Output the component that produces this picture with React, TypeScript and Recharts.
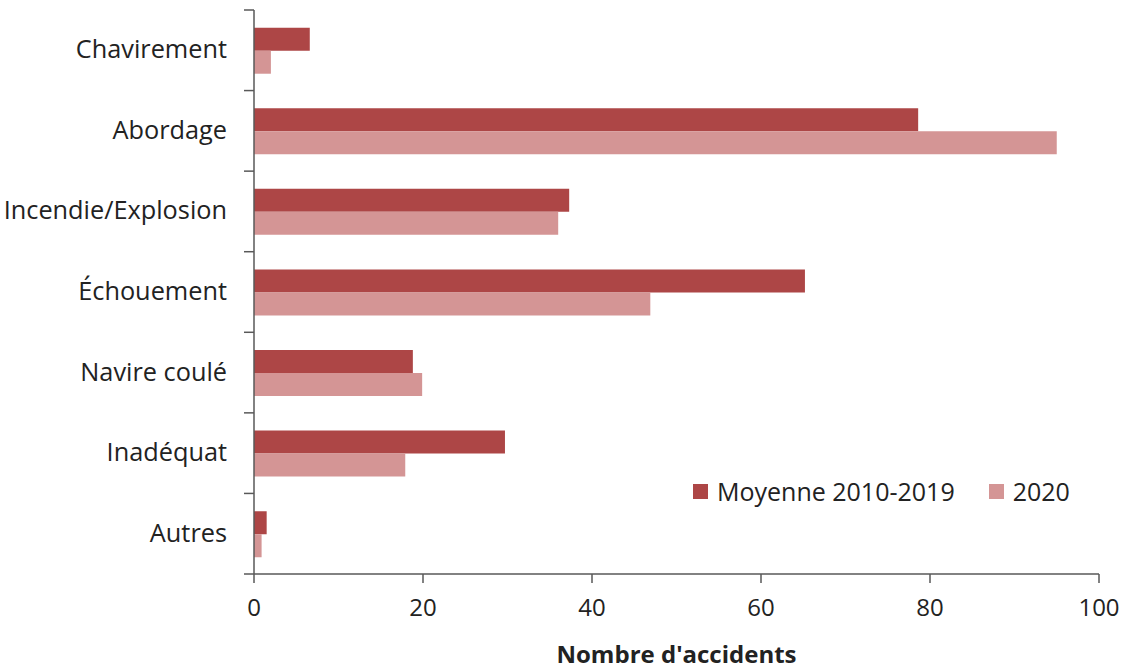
import { BarChart, Bar, XAxis, YAxis } from 'recharts';

const categories = [
  'Chavirement',
  'Abordage',
  'Incendie/Explosion',
  'Échouement',
  'Navire coulé',
  'Inadéquat',
  'Autres',
];
const moyenne = [6.6, 78.6, 37.3, 65.2, 18.8, 29.7, 1.5];
const annee2020 = [2.0, 95.0, 36.0, 46.9, 19.9, 17.9, 0.9];
const xTicks = [0, 20, 40, 60, 80, 100];

const DARK = '#AD4646';
const LIGHT = '#D49595';
const AXIS = '#595959';
const TEXT = '#222';
const FONT = '"Open Sans", "Noto Sans", sans-serif';

const W = 1124;
const H = 671;
const MARGIN = { top: 10, right: 25, bottom: 37, left: 0 };
const YAXIS_W = 254;
const XAXIS_H = 60;
const BAND = (H - MARGIN.top - MARGIN.bottom - XAXIS_H) / categories.length;

const data = categories.map((name, i) => ({
  name,
  moyenne: moyenne[i],
  annee2020: annee2020[i],
}));

function CategoryTick(props: any) {
  const { y, payload, index } = props;
  const axisX = MARGIN.left + YAXIS_W;
  return (
    <g>
      <text
        x={axisX - 27}
        y={y}
        dy={8}
        textAnchor="end"
        fill={TEXT}
        fontSize={25.3}
        fontFamily={FONT}
      >
        {payload.value}
      </text>
      <line x1={axisX - 10} x2={axisX} y1={y - BAND / 2} y2={y - BAND / 2} stroke={AXIS} strokeWidth={1.5} />
      {index === categories.length - 1 && (
        <line x1={axisX - 10} x2={axisX} y1={y + BAND / 2} y2={y + BAND / 2} stroke={AXIS} strokeWidth={1.5} />
      )}
    </g>
  );
}

function ChartLegend() {
  const items = [
    { label: 'Moyenne 2010-2019', color: DARK },
    { label: '2020', color: LIGHT },
  ];
  return (
    <div
      style={{
        position: 'absolute',
        top: 474,
        left: 693,
        display: 'flex',
        alignItems: 'center',
        gap: '34px',
        fontFamily: FONT,
      }}
    >
      {items.map((item) => (
        <div key={item.label} style={{ display: 'flex', alignItems: 'center', gap: '9px' }}>
          <span style={{ width: 15, height: 15, background: item.color, display: 'inline-block' }} />
          <span style={{ fontSize: 25, color: TEXT }}>{item.label}</span>
        </div>
      ))}
    </div>
  );
}

export default function App() {
  return (
    <div style={{ position: 'fixed', top: 0, left: 0, width: W, height: H, background: '#fff' }}>
      <BarChart
        width={W}
        height={H}
        data={data}
        layout="vertical"
        margin={MARGIN}
        barCategoryGap="22%"
        barGap={0}
      >
        <XAxis
          type="number"
          domain={[0, 100]}
          ticks={xTicks}
          height={XAXIS_H}
          stroke={AXIS}
          strokeWidth={1.5}
          tickSize={9}
          tickMargin={16}
          tick={{ fill: TEXT, fontSize: 24, fontFamily: FONT }}
          label={{
            value: "Nombre d'accidents",
            position: 'insideBottom',
            offset: -29,
            fill: TEXT,
            fontSize: 24,
            fontWeight: 700,
            fontFamily: FONT,
          }}
        />
        <YAxis
          type="category"
          dataKey="name"
          width={YAXIS_W}
          stroke={AXIS}
          strokeWidth={1.5}
          tickLine={false}
          tick={<CategoryTick />}
          interval={0}
        />
        <Bar dataKey="moyenne" name="Moyenne 2010-2019" fill={DARK} isAnimationActive={false} />
        <Bar dataKey="annee2020" name="2020" fill={LIGHT} isAnimationActive={false} />
      </BarChart>
      <ChartLegend />
    </div>
  );
}
